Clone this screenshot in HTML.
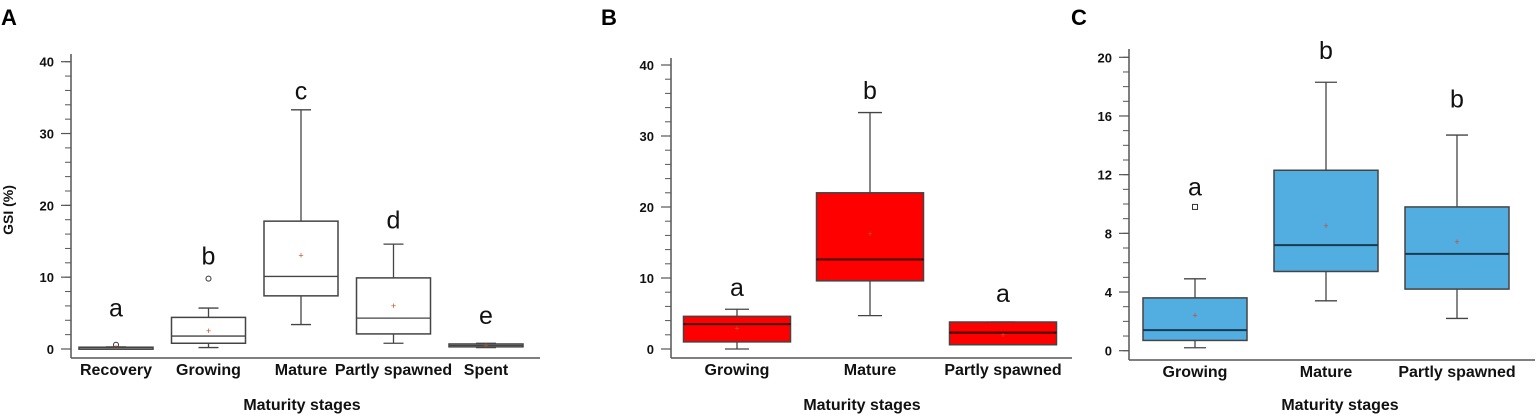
<!DOCTYPE html>
<html><head><meta charset="utf-8">
<style>
html,body{margin:0;padding:0;background:#fff;}
svg{display:block;font-family:"Liberation Sans",sans-serif;}
</style></head>
<body>
<svg id="fig" width="1536" height="417" viewBox="0 0 1536 417"></svg>
<script>
// Panel A data
const catsA = ["Recovery","Growing","Mature","Partly spawned","Spent"];
const wlA = [0.1,0.2,3.4,0.8,0.2];
const q1A = [0.15,0.8,7.4,2.1,0.3];
const medA = [0.2,1.8,10.1,4.3,0.5];
const q3A = [0.25,4.4,17.8,9.9,0.7];
const whA = [0.3,5.7,33.3,14.6,0.8];
const meanA = [0.2,2.5,13.0,6.0,0.5];
const outA = [[0.6],[9.8],[],[],[]];
const letA = ["a","b","c","d","e"];
const letYA = [5.8,13.0,36.0,18.0,4.7];
const ticksA = [0,10,20,30,40];
// Panel B data
const catsB = ["Growing","Mature","Partly spawned"];
const wlB = [0,4.7,0.6];
const q1B = [1.0,9.6,0.6];
const medB = [3.5,12.6,2.3];
const q3B = [4.6,22.0,3.8];
const whB = [5.6,33.3,3.8];
const meanB = [2.9,16.2,2.0];
const outB = [[],[],[]];
const letB = ["a","b","a"];
const letYB = [8.7,36.5,7.9];
const ticksB = [0,10,20,30,40];
// Panel C data
const catsC = ["Growing","Mature","Partly spawned"];
const wlC = [0.2,3.4,2.2];
const q1C = [0.7,5.4,4.2];
const medC = [1.4,7.2,6.6];
const q3C = [3.6,12.3,9.8];
const whC = [4.9,18.3,14.7];
const meanC = [2.4,8.5,7.4];
const outC = [[9.8],[],[]];
const letC = ["a","b","b"];
const letYC = [11.2,20.5,17.2];
const ticksC = [0,4,8,12,16,20];

const svg = document.getElementById('fig');
const NS = 'http://www.w3.org/2000/svg';
function mk(tag, attrs, parent){
  const e = document.createElementNS(NS, tag);
  for (const k in attrs) e.setAttribute(k, attrs[k]);
  (parent||svg).appendChild(e);
  return e;
}

function panel(p){
  const g = mk('g', {});
  
  
  const y = v => p.y0 - (v - 0) * (p.y0 - p.yTop) / p.ymax;
  // panel letter
  const pl = mk('text', {x:p.letterX, y:25, 'font-size':22, 'font-weight':'bold', fill:'#000'}, g);
  pl.textContent = p.id;
  
  
  // axes
  const ya = mk('line', {x1:p.ax, y1:p.axisTop, x2:p.ax, y2:p.base, stroke:'#555', 'stroke-width':1.5}, g);
  
  
  const xa = mk('line', {x1:p.ax, y1:p.base, x2:p.axRight, y2:p.base, stroke:'#555', 'stroke-width':1.5}, g);
  
  
  // minor ticks
  for (let v = 0; v <= p.ymax + 1e-9; v += p.minor){
    const t = mk('line', {x1:p.ax-6, y1:y(v), x2:p.ax, y2:y(v), stroke:'#555', 'stroke-width':1}, g);
    
    
  }
  p.ticks.forEach(v => {
    const t = mk('line', {x1:p.ax-10, y1:y(v), x2:p.ax, y2:y(v), stroke:'#555', 'stroke-width':1.2}, g);
    
    
    const l = mk('text', {x:p.ax-17, y:y(v)+5, 'font-size':13, 'font-weight':'bold', 'text-anchor':'end', fill:'#111'}, g);
    l.textContent = v;
    
    
  });
  // boxes
  p.cats.forEach((c, i) => {
    const cx = p.cx0 + i * p.step;
    const hw = p.bw / 2;
    const bg = mk('g', {}, g);
    
    
    mk('line', {x1:cx, y1:y(p.wh[i]), x2:cx, y2:y(p.q3[i]), stroke:'#444', 'stroke-width':1.3}, bg);
    mk('line', {x1:cx, y1:y(p.q1[i]), x2:cx, y2:y(p.wl[i]), stroke:'#444', 'stroke-width':1.3}, bg);
    mk('line', {x1:cx-p.cap, y1:y(p.wh[i]), x2:cx+p.cap, y2:y(p.wh[i]), stroke:'#444', 'stroke-width':1.3}, bg);
    mk('line', {x1:cx-p.cap, y1:y(p.wl[i]), x2:cx+p.cap, y2:y(p.wl[i]), stroke:'#444', 'stroke-width':1.3}, bg);
    const h = Math.max(y(p.q1[i]) - y(p.q3[i]), 2);
    mk('rect', {x:cx-hw, y:y(p.q3[i]), width:p.bw, height:h, fill:p.fill, stroke:'#444', 'stroke-width':1.5}, bg);
    mk('line', {x1:cx-hw, y1:y(p.med[i]), x2:cx+hw, y2:y(p.med[i]), stroke:p.medC, 'stroke-width':p.medW}, bg);
    mk('text', {x:cx, y:y(p.mean[i])+3, 'font-size':9, 'text-anchor':'middle', fill:'#c0502a'}, bg).textContent = '+';
    p.out[i].forEach(o => {
      mk('rect', {x:cx-2.5, y:y(o)-2.5, width:5, height:5, rx:p.outR, fill:'none', stroke:'#333', 'stroke-width':1}, bg);
    });
    const lt = mk('text', {x:cx, y:y(p.letY[i])+9, 'font-size':25, 'text-anchor':'middle', fill:'#111'}, g);
    lt.textContent = p.let[i];
    
    
    const cl = mk('text', {x:cx, y:p.catY, 'font-size':16, 'font-weight':'bold', 'text-anchor':'middle', fill:'#111'}, g);
    cl.textContent = c;
    
    
  });
  const xt = mk('text', {x:p.titleX, y:410, 'font-size':16, 'font-weight':'bold', 'text-anchor':'middle', fill:'#111'}, g);
  xt.textContent = 'Maturity stages';
  
  
}

panel({id:'A', letterX:1, ax:71, axisTop:54, base:358, axRight:540, y0:349, yTop:61.7, ymax:40, minor:2, ticks:ticksA,
  cats:catsA, wl:wlA, q1:q1A, med:medA, q3:q3A, wh:whA, mean:meanA, out:outA, let:letA, letY:letYA,
  cx0:116, step:92.5, bw:74, cap:10, fill:'#fff', medC:'#444', medW:1.3, outR:2.5, catY:375, titleX:302});
panel({id:'B', letterX:601, ax:671, axisTop:58, base:358, axRight:1072, y0:349, yTop:65, ymax:40, minor:2, ticks:ticksB,
  cats:catsB, wl:wlB, q1:q1B, med:medB, q3:q3B, wh:whB, mean:meanB, out:outB, let:letB, letY:letYB,
  cx0:737, step:133, bw:107, cap:12, fill:'#ff0000', medC:'#3a0000', medW:2, outR:0, catY:375, titleX:862});
panel({id:'C', letterX:1071, ax:1129, axisTop:49, base:360, axRight:1535, y0:350.7, yTop:57.3, ymax:20, minor:1, ticks:ticksC,
  cats:catsC, wl:wlC, q1:q1C, med:medC, q3:q3C, wh:whC, mean:meanC, out:outC, let:letC, letY:letYC,
  cx0:1195, step:131, bw:104, cap:11, fill:'#52aee0', medC:'#1a3a50', medW:2, outR:0, catY:377, titleX:1340});

const yt = mk('text', {x:0, y:0, 'font-size':14, 'font-weight':'bold', 'text-anchor':'middle', fill:'#111', transform:'translate(13,210) rotate(-90)'});
yt.textContent = 'GSI (%)';


</script>
</body></html>
